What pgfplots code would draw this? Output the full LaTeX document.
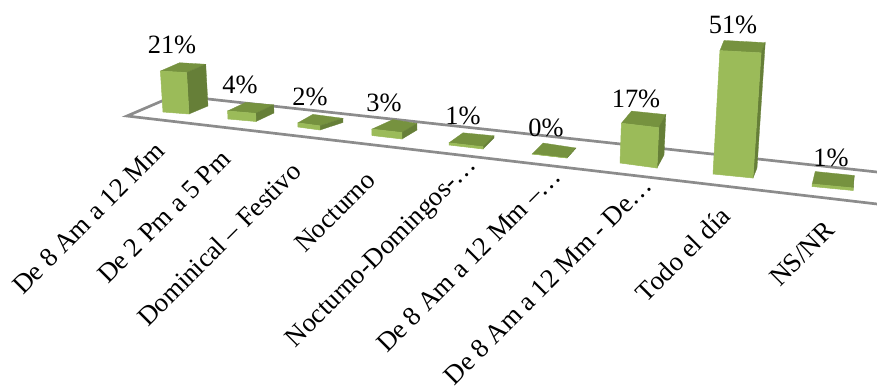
\documentclass[border=0pt]{standalone}
\usepackage{fontspec}
\setmainfont{Liberation Serif}
\usepackage{pgfplots}
\pgfplotsset{compat=1.18}

\definecolor{barfront}{HTML}{9BBB59}
\definecolor{bartop}{HTML}{76923F}
\definecolor{barside}{HTML}{667F38}
\definecolor{floorline}{HTML}{8C8C8C}

% Vertical scale and lean of the perspective view: a bar of value v rises
% from its floor corner (x,y) by v*hs(x), fanning out from the centre.
\tikzset{declare function={
  hs(\x)=1.95+(\x-163)*0.000847;
  topx(\x,\v)=\x+\v*hs(\x)*((\x-455)/4600);
  topy(\x,\y,\v)=\y-\v*hs(\x);
}}

% value, then the floor corners: front left, front right, back right, back left
\newcommand{\drawbar}[9]{%
  \pgfmathsetmacro{\ax}{topx(#2,#1)}\pgfmathsetmacro{\ay}{topy(#2,#3,#1)}%
  \pgfmathsetmacro{\bx}{topx(#4,#1)}\pgfmathsetmacro{\by}{topy(#4,#5,#1)}%
  \pgfmathsetmacro{\cx}{topx(#6,#1)}\pgfmathsetmacro{\cy}{topy(#6,#7,#1)}%
  \pgfmathsetmacro{\dx}{topx(#8,#1)}\pgfmathsetmacro{\dy}{topy(#8,#9,#1)}%
  \addplot[fill=bartop,draw=bartop,line width=0.3pt] coordinates {(\ax,\ay)(\bx,\by)(\cx,\cy)(\dx,\dy)} --cycle;
  \addplot[fill=barside,draw=barside,line width=0.3pt] coordinates {(#4,#5)(#6,#7)(\cx,\cy)(\bx,\by)} --cycle;
  \addplot[fill=barfront,draw=barfront,line width=0.5pt] coordinates {(#2,#3)(#4,#5)(\bx,\by)(\ax,\ay)} --cycle;
}

\newcommand{\catlabel}[3]{\node[rotate=45,anchor=base east,inner sep=0pt,font=\fontsize{26.8}{30}\selectfont] at (axis cs:#1,#2) {#3};}
\newcommand{\vallabel}[3]{\node[anchor=base,inner sep=0pt,font=\fontsize{26.4}{30}\selectfont] at (axis cs:#1,#2) {#3};}

\begin{document}
\begin{tikzpicture}
\path[use as bounding box] (0,0) rectangle (877pt,388pt);
\begin{axis}[
  at={(0,0)}, anchor=south west,
  scale only axis, width=877pt, height=388pt,
  xmin=0, xmax=877, ymin=0, ymax=388, y dir=reverse,
  hide axis, clip=true,
]
% floor outline
\addplot[floorline,line width=2.7pt] coordinates {(877,172)(175,95.4)(127,116)(877,204)};

% one bar per category: percentage, then its four floor corners
\drawbar{21}{163}{112}{189}{114}{208}{106}{182}{104}
\drawbar{4}{228}{119}{256}{121.5}{274}{113}{246}{110.5}
\drawbar{2}{298}{127}{320}{130}{343}{122.5}{313}{118.5}
\drawbar{3}{372}{135.5}{402}{139}{417}{130}{393}{126}
\drawbar{1}{449}{145}{483}{149}{494}{138}{463}{135}
\drawbar{0}{532}{154}{567}{158}{576}{148}{543}{143}
\drawbar{17}{620}{163}{657}{168}{664}{155}{630}{151}
\drawbar{51}{713}{174}{753}{178}{757}{168}{717}{164}
\drawbar{1}{812}{186.5}{853}{190.5}{854}{178}{815}{174}

% percentages above the bars
\vallabel{172}{53}{21\%}
\vallabel{240}{93}{4\%}
\vallabel{310}{105}{2\%}
\vallabel{384}{111}{3\%}
\vallabel{463}{124}{1\%}
\vallabel{546}{136}{0\%}
\vallabel{636}{107}{17\%}
\vallabel{733}{33}{51\%}
\vallabel{831}{166}{1\%}

% category names
\catlabel{166}{153}{De 8 Am a 12 Mm}
\catlabel{232}{161}{De 2 Pm a 5 Pm}
\catlabel{303}{173}{Dominical – Festivo}
\catlabel{377}{182}{Nocturno}
\catlabel{478}{166}{Nocturno-Domingos-…}
\catlabel{563}{178}{De 8 Am a 12 Mm –…}
\catlabel{654}{187}{De 8 Am a 12 Mm - De…}
\catlabel{732}{218}{Todo el día}
\catlabel{836}{232}{NS/NR}
\end{axis}
\end{tikzpicture}
\end{document}
